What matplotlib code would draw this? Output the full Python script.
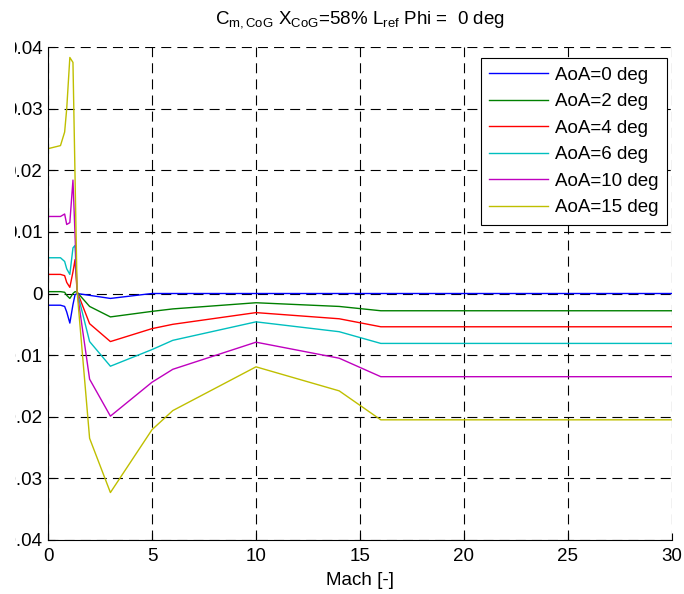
import matplotlib
matplotlib.use('Agg')
import matplotlib.pyplot as plt
from matplotlib.patches import Rectangle

plt.rcParams['font.family'] = ['Liberation Sans', 'DejaVu Sans']
plt.rcParams['mathtext.fontset'] = 'custom'
plt.rcParams['mathtext.rm'] = 'Liberation Sans'
plt.rcParams['mathtext.it'] = 'Liberation Sans'

# данные
mach = [0, 0.6, 0.8, 0.9, 1.05, 1.2, 1.3, 1.4, 2, 3, 5, 6, 10, 14, 16, 30]

cm_aoa0 = [-0.0019, -0.0019, -0.0021, -0.0030, -0.0048, -0.0018, -0.0002, 0.0000,
           -0.0003, -0.0008, 0.0000, 0.0000, 0.0000, 0.0000, 0.0000, 0.0000]
cm_aoa2 = [0.0003, 0.0003, 0.0002, -0.0003, -0.0008, 0.0000, 0.0003, 0.0002,
           -0.0021, -0.0038, -0.0029, -0.0025, -0.0015, -0.0021, -0.0028, -0.0028]
cm_aoa4 = [0.0031, 0.0031, 0.0029, 0.0018, 0.0010, 0.0035, 0.0055, 0.0003,
           -0.0049, -0.0078, -0.0057, -0.0050, -0.0031, -0.0041, -0.0054, -0.0054]
cm_aoa6 = [0.0058, 0.0058, 0.0052, 0.0040, 0.0031, 0.0074, 0.0078, 0.0003,
           -0.0078, -0.0118, -0.0091, -0.0076, -0.0046, -0.0062, -0.0081, -0.0081]
cm_aoa10 = [0.0125, 0.0125, 0.0129, 0.0112, 0.0115, 0.0184, 0.0095, 0.0003,
            -0.0139, -0.0199, -0.0144, -0.0123, -0.0079, -0.0105, -0.0135, -0.0135]
cm_aoa15 = [0.0235, 0.0240, 0.0262, 0.0300, 0.0383, 0.0375, 0.0190, 0.0003,
            -0.0235, -0.0323, -0.0221, -0.0190, -0.0119, -0.0158, -0.0205, -0.0205]

labels = ['AoA=0 deg', 'AoA=2 deg', 'AoA=4 deg', 'AoA=6 deg', 'AoA=10 deg', 'AoA=15 deg']
colors = [(0, 0, 1), (0, 0.5, 0), (1, 0, 0), (0, 0.75, 0.75), (0.75, 0, 0.75), (0.75, 0.75, 0)]
series = [cm_aoa0, cm_aoa2, cm_aoa4, cm_aoa6, cm_aoa10, cm_aoa15]

x_ticks = [0, 5, 10, 15, 20, 25, 30]
y_ticks = [-0.04, -0.03, -0.02, -0.01, 0, 0.01, 0.02, 0.03, 0.04]
y_tick_labels = ['-0.04', '-0.03', '-0.02', '-0.01', '0', '0.01', '0.02', '0.03', '0.04']

fs = 13.5

fig = plt.figure(figsize=(6.84, 5.94), dpi=100)
ax = fig.add_axes([48 / 684, 54 / 594, 624 / 684, 493 / 594])

for vals, lab, col in zip(series, labels, colors):
    ax.plot(mach, vals, color=col, lw=1.0, label=lab)

ax.set_xlim(0, 30)
ax.set_ylim(-0.04, 0.04)
ax.set_xticks(x_ticks)
ax.set_xticklabels([str(t) for t in x_ticks])
ax.set_yticks(y_ticks)
ax.set_yticklabels(y_tick_labels)
ax.tick_params(direction='in', length=5, width=0.8, labelsize=fs)
ax.tick_params(axis='y', pad=4)
ax.tick_params(axis='x', pad=6)

ax.grid(True, color='k', linestyle=(0, (9, 5.5)), lw=0.8)
ax.spines['top'].set_visible(False)
ax.spines['right'].set_visible(False)
ax.spines['left'].set_linewidth(0.8)
ax.spines['bottom'].set_linewidth(0.8)

ax.set_xlabel('Mach [-]', fontsize=fs, labelpad=5)
ax.set_title(r'C$_{\mathrm{m,CoG}}$ X$_{\mathrm{CoG}}$=58% L$_{\mathrm{ref}}$ Phi =  0 deg',
             fontsize=fs, pad=17)

leg = ax.legend(loc='upper right', bbox_to_anchor=(619 / 624, 482 / 493), borderaxespad=0,
                fontsize=fs, handlelength=3.1, handletextpad=0.4, labelspacing=0.5,
                borderpad=0.45, fancybox=False, framealpha=1, edgecolor='k')
leg.get_frame().set_linewidth(0.8)

# левый край картинки обрезан, как в оригинале
fig.add_artist(Rectangle((0, 0), 15 / 684, 1, transform=fig.transFigure,
                         facecolor='white', edgecolor='none', zorder=10))

fig.savefig('out.png', dpi=100)
